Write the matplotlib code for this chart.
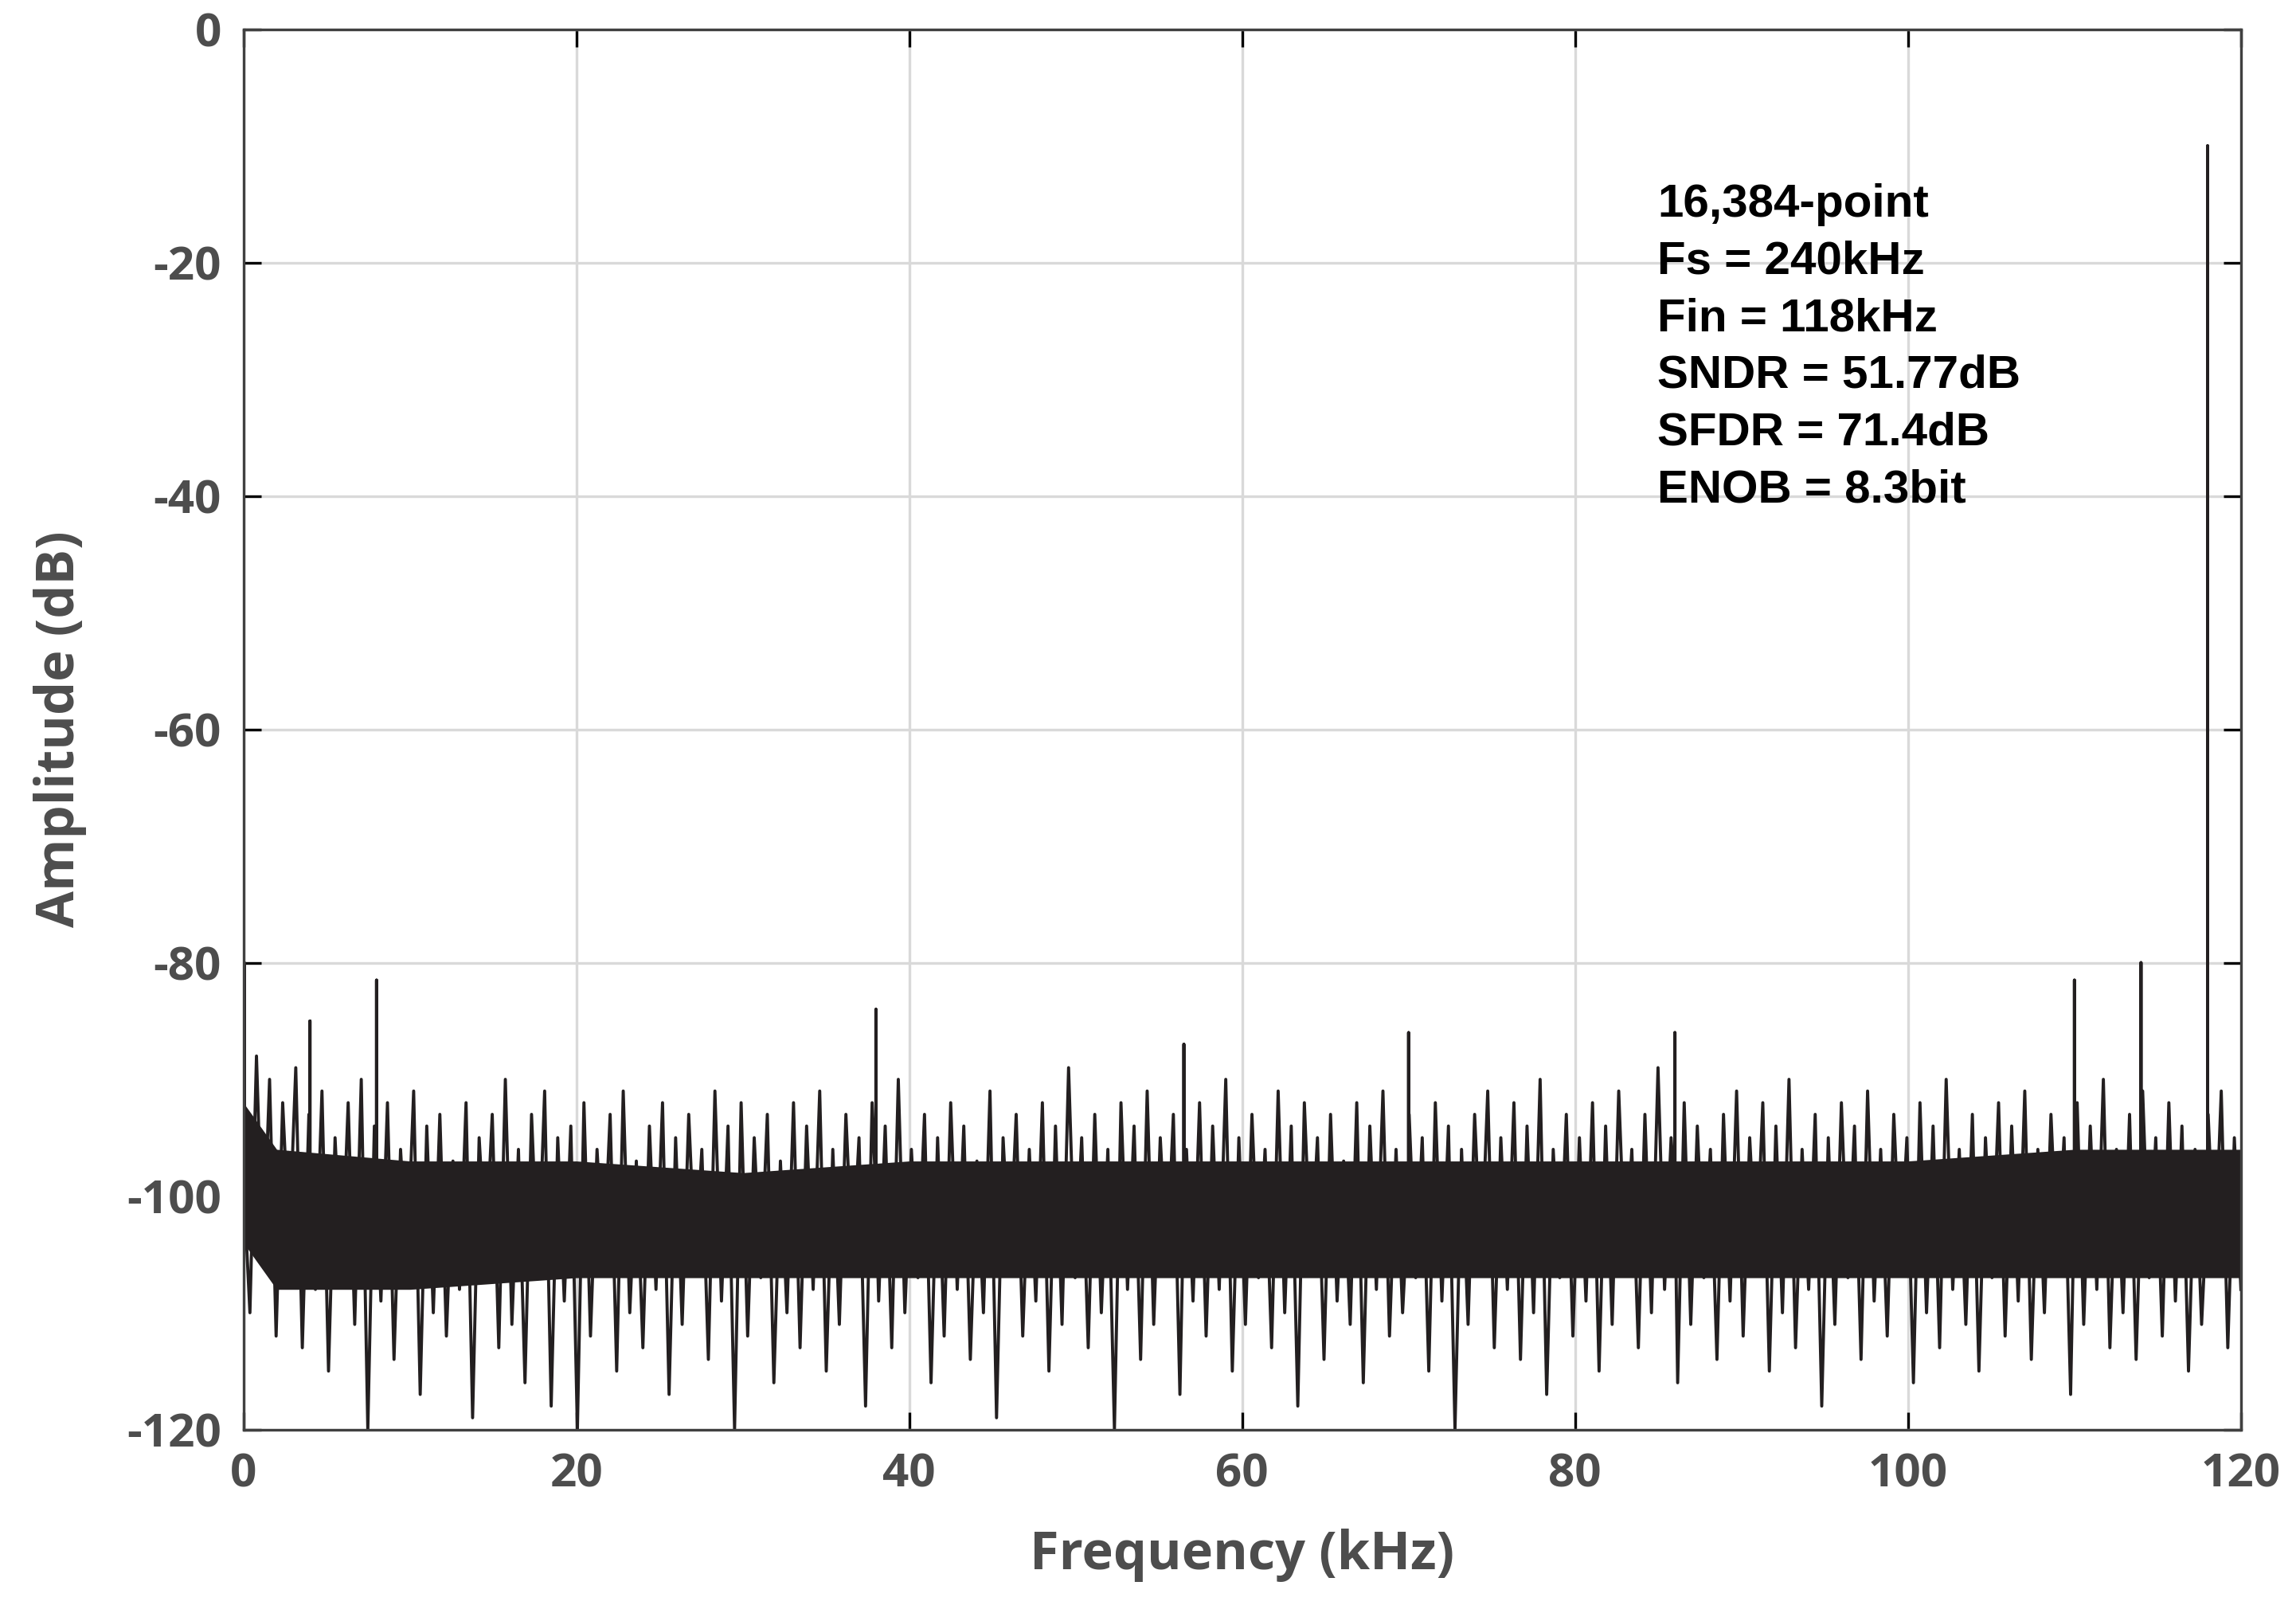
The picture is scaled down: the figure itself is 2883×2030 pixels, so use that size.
import numpy as np
import matplotlib.pyplot as plt

plt.rcParams['axes.unicode_minus'] = False

# noise floor values (dB) read across 0-120 kHz, alternating peaks/troughs
noise_db = [float(v) for v in """
-84 -110 -88 -106 -90 -112 -92 -104 -89 -113 -93 -108 -91 -115 -95 -107 -92 -111
-90 -120 -94 -109 -92 -114 -96 -106 -91 -117 -94 -110 -93 -112 -97 -108 -92 -119
-95 -105 -93 -113 -90 -111 -96 -116 -93 -107 -91 -118 -95 -109 -94 -120 -92 -112
-96 -106 -93 -115 -91 -110 -97 -113 -94 -108 -92 -117 -95 -111 -93 -106 -96 -114
-91 -109 -94 -120 -92 -112 -95 -107 -93 -116 -97 -110 -92 -113 -94 -108 -91 -115
-96 -111 -93 -106 -95 -118 -92 -109 -94 -113 -90 -110 -96 -107 -93 -116 -95 -112
-92 -108 -94 -114 -97 -110 -91 -119 -95 -106 -93 -112 -96 -109 -92 -115 -94 -111
-89 -107 -95 -113 -93 -110 -96 -120 -92 -108 -94 -114 -91 -111 -95 -106 -93 -117
-96 -109 -92 -112 -94 -108 -90 -115 -95 -111 -93 -107 -96 -113 -91 -110 -94 -118
-92 -106 -95 -114 -93 -109 -97 -111 -92 -116 -94 -108 -91 -112 -96 -110 -93 -107
-95 -115 -92 -109 -94 -120 -96 -111 -93 -106 -91 -113 -95 -108 -92 -114 -94 -110
-90 -117 -96 -107 -93 -112 -95 -109 -92 -115 -94 -111 -91 -106 -96 -113 -93 -110
-89 -108 -95 -116 -92 -111 -94 -107 -96 -114 -93 -109 -91 -112 -95 -106 -92 -115
-94 -110 -90 -113 -96 -108 -93 -118 -95 -111 -92 -107 -94 -114 -91 -109 -96 -112
-93 -106 -95 -116 -92 -110 -94 -113 -90 -108 -96 -111 -93 -115 -95 -107 -92 -112
-94 -109 -91 -114 -96 -110 -93 -106 -95 -117 -92 -111 -94 -108 -90 -113 -96 -110
-93 -114 -91 -107 -95 -112 -92 -109 -94 -115 -96 -111 -93 -106 -91 -113 -95 -108
""".split()]

# dense core of the noise band (dB)
band_freq = [0, 2, 10, 20, 30, 40, 50, 60, 70, 80, 90, 100, 110, 120]
band_top = [-92, -96, -97, -97, -98, -97, -97, -97, -97, -97, -97, -97, -96, -96]
band_bot = [-104, -108, -108, -107, -107, -107, -107, -107, -107, -107, -107, -107, -107, -107]

# spurs: (frequency kHz, amplitude dB)
spur_freq = [0.05, 4.0, 8.0, 38.0, 56.5, 70.0, 86.0, 110.0, 114.0, 118.0]
spur_db = [-80, -85, -81.5, -84, -87, -86, -86, -81.5, -80, -10]

x_ticks = [0, 20, 40, 60, 80, 100, 120]
y_ticks = [0, -20, -40, -60, -80, -100, -120]
info_lines = ["16,384-point", "Fs = 240kHz", "Fin = 118kHz",
              "SNDR = 51.77dB", "SFDR = 71.4dB", "ENOB = 8.3bit"]

freq = list(np.linspace(0, 120, len(noise_db)))
amp = list(noise_db)
for f, a in zip(spur_freq, spur_db):
    i = int(np.searchsorted(freq, f))
    freq[i:i] = [f, f, f]
    amp[i:i] = [-100, a, -100]

fig = plt.figure(figsize=(14.415, 10.15), dpi=200)
ax = fig.add_axes([0.106, 0.116, 0.87, 0.866])
ax.fill_between(band_freq, band_bot, band_top, color='#231f20', lw=0)
ax.plot(freq, amp, color='#231f20', lw=1.4)
ax.set_xlim(0, 120)
ax.set_ylim(-120, 0)
ax.set_xticks(x_ticks)
ax.set_yticks(y_ticks)
ax.grid(True, color='#d9d9d9', lw=1.2)
ax.set_axisbelow(True)
ax.tick_params(direction='in', length=8, width=1.2, top=True, right=True,
               labelsize=21, labelcolor='#4d4d4d', pad=10)
for lbl in ax.get_xticklabels() + ax.get_yticklabels():
    lbl.set_fontweight('bold')
    lbl.set_family('Open Sans')
for s in ax.spines.values():
    s.set_color('#404040')
    s.set_linewidth(1.2)
ax.set_xlabel('Frequency (kHz)', fontsize=24, fontweight='bold', color='#4d4d4d',
              family='Open Sans', labelpad=14)
ax.set_ylabel('Amplitude (dB)', fontsize=24, fontweight='bold', color='#4d4d4d',
              family='Open Sans', labelpad=18)
ax.text(0.708, 0.89, "\n".join(info_lines), transform=ax.transAxes,
        fontsize=21, fontweight='bold', family='Liberation Sans',
        va='top', ha='left', linespacing=1.42)
fig.savefig('out.png', dpi=200)
